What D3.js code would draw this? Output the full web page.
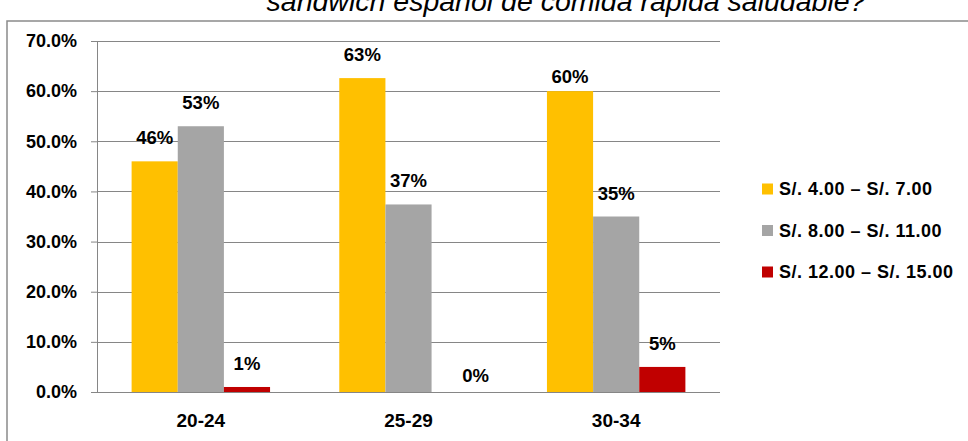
<!DOCTYPE html>
<html>
<head>
<meta charset="utf-8">
<script src="https://cdn.jsdelivr.net/npm/d3@7/dist/d3.min.js"></script>
<style>
  html, body { margin: 0; padding: 0; background: #ffffff; }
  svg { display: block; }
  text { font-family: "Liberation Sans", Arial, sans-serif; }
</style>
</head>
<body>
<svg id="chart" width="968" height="441"></svg>
<script>
// Age groups and price ranges
const categories = ["20-24", "25-29", "30-34"];
const seriesNames = ["S/. 4.00 – S/. 7.00", "S/. 8.00 – S/. 11.00", "S/. 12.00 – S/. 15.00"];
// Share of respondents per price range, one array per range (same order as categories)
const range4to7 = [0.46, 0.626, 0.60];
const range8to11 = [0.53, 0.374, 0.35];
const range12to15 = [0.01, 0.00, 0.05];
const yTicks = [0, 0.1, 0.2, 0.3, 0.4, 0.5, 0.6, 0.7];
const titleText = "sandwich español de comida rápida saludable?";

const seriesValues = [range4to7, range8to11, range12to15];
const colors = ["#FFC000", "#A5A5A5", "#C00000"];

const svg = d3.select("#chart");
const W = 968, H = 441;

// Outer frame of the chart
svg.append("rect")
  .attr("x", 7).attr("y", 21)
  .attr("width", W + 10).attr("height", H + 10)
  .attr("fill", "#ffffff")
  .attr("stroke", "#8a8a8a").attr("stroke-width", 1.5);

// Title (second line, running off the top edge)
svg.append("text")
  .attr("x", 566).attr("y", 11)
  .attr("text-anchor", "middle")
  .attr("font-style", "italic")
  .attr("font-size", 28.5)
  .attr("fill", "#000")
  .text(titleText);

const plot = { left: 97, right: 720, top: 41, bottom: 392 };

const x0 = d3.scaleBand().domain(categories).range([plot.left, plot.right]).padding(0);
const gap = x0.bandwidth() / 3;  // 150% gap width
const x1 = d3.scaleBand().domain(d3.range(seriesNames.length))
  .range([gap / 2, x0.bandwidth() - gap / 2]).padding(0);
const y = d3.scaleLinear().domain([0, 0.7]).range([plot.bottom, plot.top]);

// Gridlines + y axis
const yAxis = d3.axisLeft(y).tickValues(yTicks).tickFormat(d3.format(".1%"))
  .tickSize(6).tickPadding(14);
const gy = svg.append("g").attr("transform", `translate(${plot.left},0)`).call(yAxis);
gy.select(".domain").attr("stroke", "#868686").attr("stroke-width", 1);
gy.selectAll(".tick line").attr("stroke", "#868686");
gy.selectAll(".tick text")
  .attr("font-family", "Liberation Sans, Arial, sans-serif")
  .attr("font-weight", "bold").attr("font-size", 18).attr("fill", "#000");

svg.append("g").selectAll("line")
  .data(yTicks)
  .join("line")
  .attr("x1", plot.left).attr("x2", plot.right)
  .attr("y1", d => Math.round(y(d)) + 0.5).attr("y2", d => Math.round(y(d)) + 0.5)
  .attr("stroke", "#868686").attr("stroke-width", 1);

// X axis labels
const xAxis = d3.axisBottom(x0).tickSize(0).tickPadding(22);
const gx = svg.append("g").attr("transform", `translate(0,${plot.bottom})`).call(xAxis);
gx.select(".domain").remove();
gx.selectAll(".tick text")
  .attr("font-family", "Liberation Sans, Arial, sans-serif")
  .attr("font-weight", "bold").attr("font-size", 19).attr("fill", "#000");

// Bars
const cells = [];
categories.forEach((c, ci) => {
  seriesValues.forEach((vals, si) => {
    cells.push({ cat: c, ci, si, v: vals[ci] });
  });
});

svg.append("g").selectAll("rect")
  .data(cells)
  .join("rect")
  .attr("x", d => x0(d.cat) + x1(d.si))
  .attr("width", x1.bandwidth())
  .attr("y", d => y(d.v))
  .attr("height", d => y(0) - y(d.v))
  .attr("fill", d => colors[d.si]);

// Value labels, with a few moved by hand
const nudge = { "30-34|0": [0, 9], "25-29|2": [21, 7] };
svg.append("g").selectAll("text")
  .data(cells)
  .join("text")
  .attr("x", d => x0(d.cat) + x1(d.si) + x1.bandwidth() / 2 + (nudge[d.cat + "|" + d.si] || [0, 0])[0])
  .attr("y", d => y(d.v) - 17 + (nudge[d.cat + "|" + d.si] || [0, 0])[1])
  .attr("text-anchor", "middle")
  .attr("font-weight", "bold").attr("font-size", 18.5).attr("fill", "#000")
  .text(d => d3.format(".0%")(d.v));

// Legend
const legend = svg.append("g").attr("transform", "translate(762,0)");
const rowY = [189, 230.5, 272];
seriesNames.forEach((name, i) => {
  legend.append("rect")
    .attr("x", 0).attr("y", rowY[i] - 5.5)
    .attr("width", 11).attr("height", 11)
    .attr("fill", colors[i]);
  legend.append("text")
    .attr("x", 17).attr("y", rowY[i])
    .attr("dy", "0.35em")
    .attr("font-weight", "bold").attr("font-size", 18)
    .attr("letter-spacing", 0.5).attr("fill", "#000")
    .text(name);
});
</script>
</body>
</html>
